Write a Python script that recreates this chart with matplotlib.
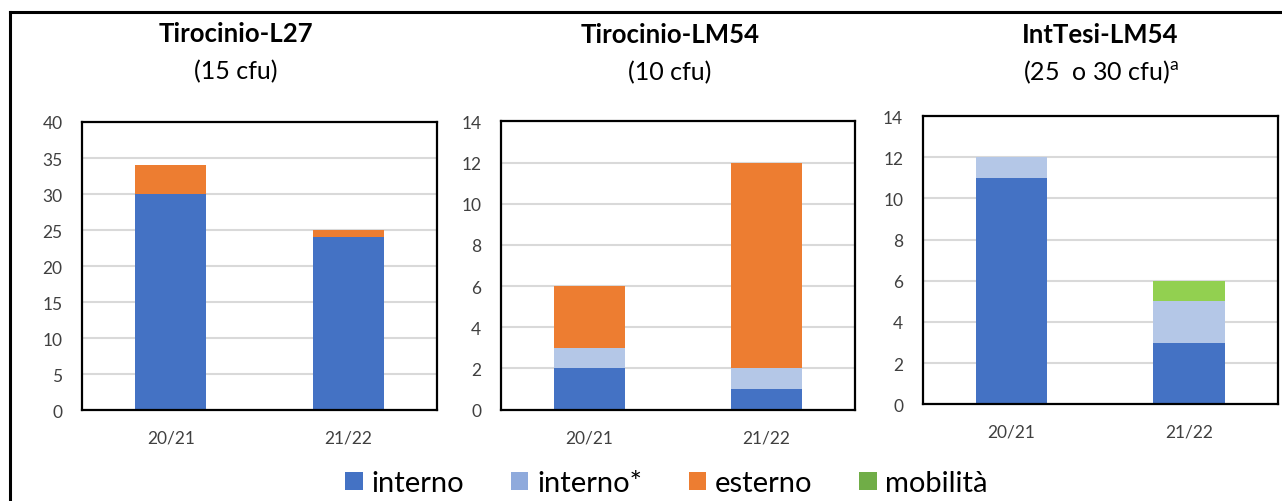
import matplotlib
matplotlib.use("Agg")
import matplotlib.pyplot as plt
from matplotlib.patches import Patch
from matplotlib.lines import Line2D
import numpy as np

plt.rcParams['font.family'] = ['Lato', 'DejaVu Sans']
plt.rcParams['mathtext.fontset'] = 'custom'
plt.rcParams['mathtext.rm'] = 'Lato'

# data
years = ['20/21', '21/22']
series = ['interno', 'interno*', 'esterno', 'mobilità']
bar_colors = ['#4472C4', '#B4C7E7', '#ED7D31', '#92D050']
legend_colors = ['#4472C4', '#8FAADC', '#ED7D31', '#70AD47']

titles = ['Tirocinio-L27', 'Tirocinio-LM54', 'IntTesi-LM54']
subtitles = ['(15 cfu)', '(10 cfu)', '(25  o 30 cfu)$^{\\mathrm{a}}$']

l27 = {'interno': [30, 24], 'interno*': [0, 0], 'esterno': [4, 1], 'mobilità': [0, 0]}
lm54 = {'interno': [2, 1], 'interno*': [1, 1], 'esterno': [3, 10], 'mobilità': [0, 0]}
tesi = {'interno': [11, 3], 'interno*': [1, 2], 'esterno': [0, 0], 'mobilità': [0, 1]}
panels = [l27, lm54, tesi]
ymax = [40, 14, 14]
ystep = [5, 2, 2]

fig = plt.figure(figsize=(12.82, 5.02), dpi=100)

# outer frame lines (top and left)
fig.add_artist(Line2D([10/1282, 1], [1 - 13/502, 1 - 13/502], color='black', lw=2.2, transform=fig.transFigure))
fig.add_artist(Line2D([10/1282, 10/1282], [0, 1 - 13/502], color='black', lw=2.2, transform=fig.transFigure))

boxes = [[0.064, 0.181, 0.277, 0.574],
         [0.3906, 0.182, 0.276, 0.574],
         [0.7197, 0.1926, 0.277, 0.574]]
title_x = [0.184, 0.5225, 0.8585]
title_y = [0.932, 0.930, 0.930]
sub_y = [0.858, 0.856, 0.856]

x = np.arange(len(years))
for i, d in enumerate(panels):
    ax = fig.add_axes(boxes[i])
    bottom = np.zeros(len(years))
    for s, c in zip(series, bar_colors):
        v = np.array(d[s], dtype=float)
        ax.bar(x, v, 0.4, bottom=bottom, color=c, zorder=3)
        bottom += v
    ax.set_xlim(-0.5, 1.5)
    ax.set_ylim(0, ymax[i])
    ax.set_yticks(np.arange(0, ymax[i] + 1, ystep[i]))
    ax.set_xticks(x)
    ax.set_xticklabels(years)
    ax.yaxis.grid(True, color='#D9D9D9', lw=1.5, zorder=0)
    ax.tick_params(length=0, labelsize=12.5, colors='#404040')
    ax.tick_params(axis='y', pad=14)
    ax.tick_params(axis='x', pad=14)
    for sp in ax.spines.values():
        sp.set_linewidth(1.6)
        sp.set_color('black')
        sp.set_zorder(5)
    fig.text(title_x[i], title_y[i], titles[i], ha='center', va='center',
             fontsize=18.5, fontweight='bold')
    fig.text(title_x[i], sub_y[i], subtitles[i], ha='center', va='center',
             fontsize=18)

handles = [Patch(facecolor=c, edgecolor='none') for c in legend_colors]
fig.legend(handles, series, loc='center', bbox_to_anchor=(0.52, 0.035),
           ncol=4, frameon=False, fontsize=21, handlelength=0.6, handleheight=0.6,
           handletextpad=0.3, columnspacing=1.6)

fig.savefig('out.png', dpi=100)
